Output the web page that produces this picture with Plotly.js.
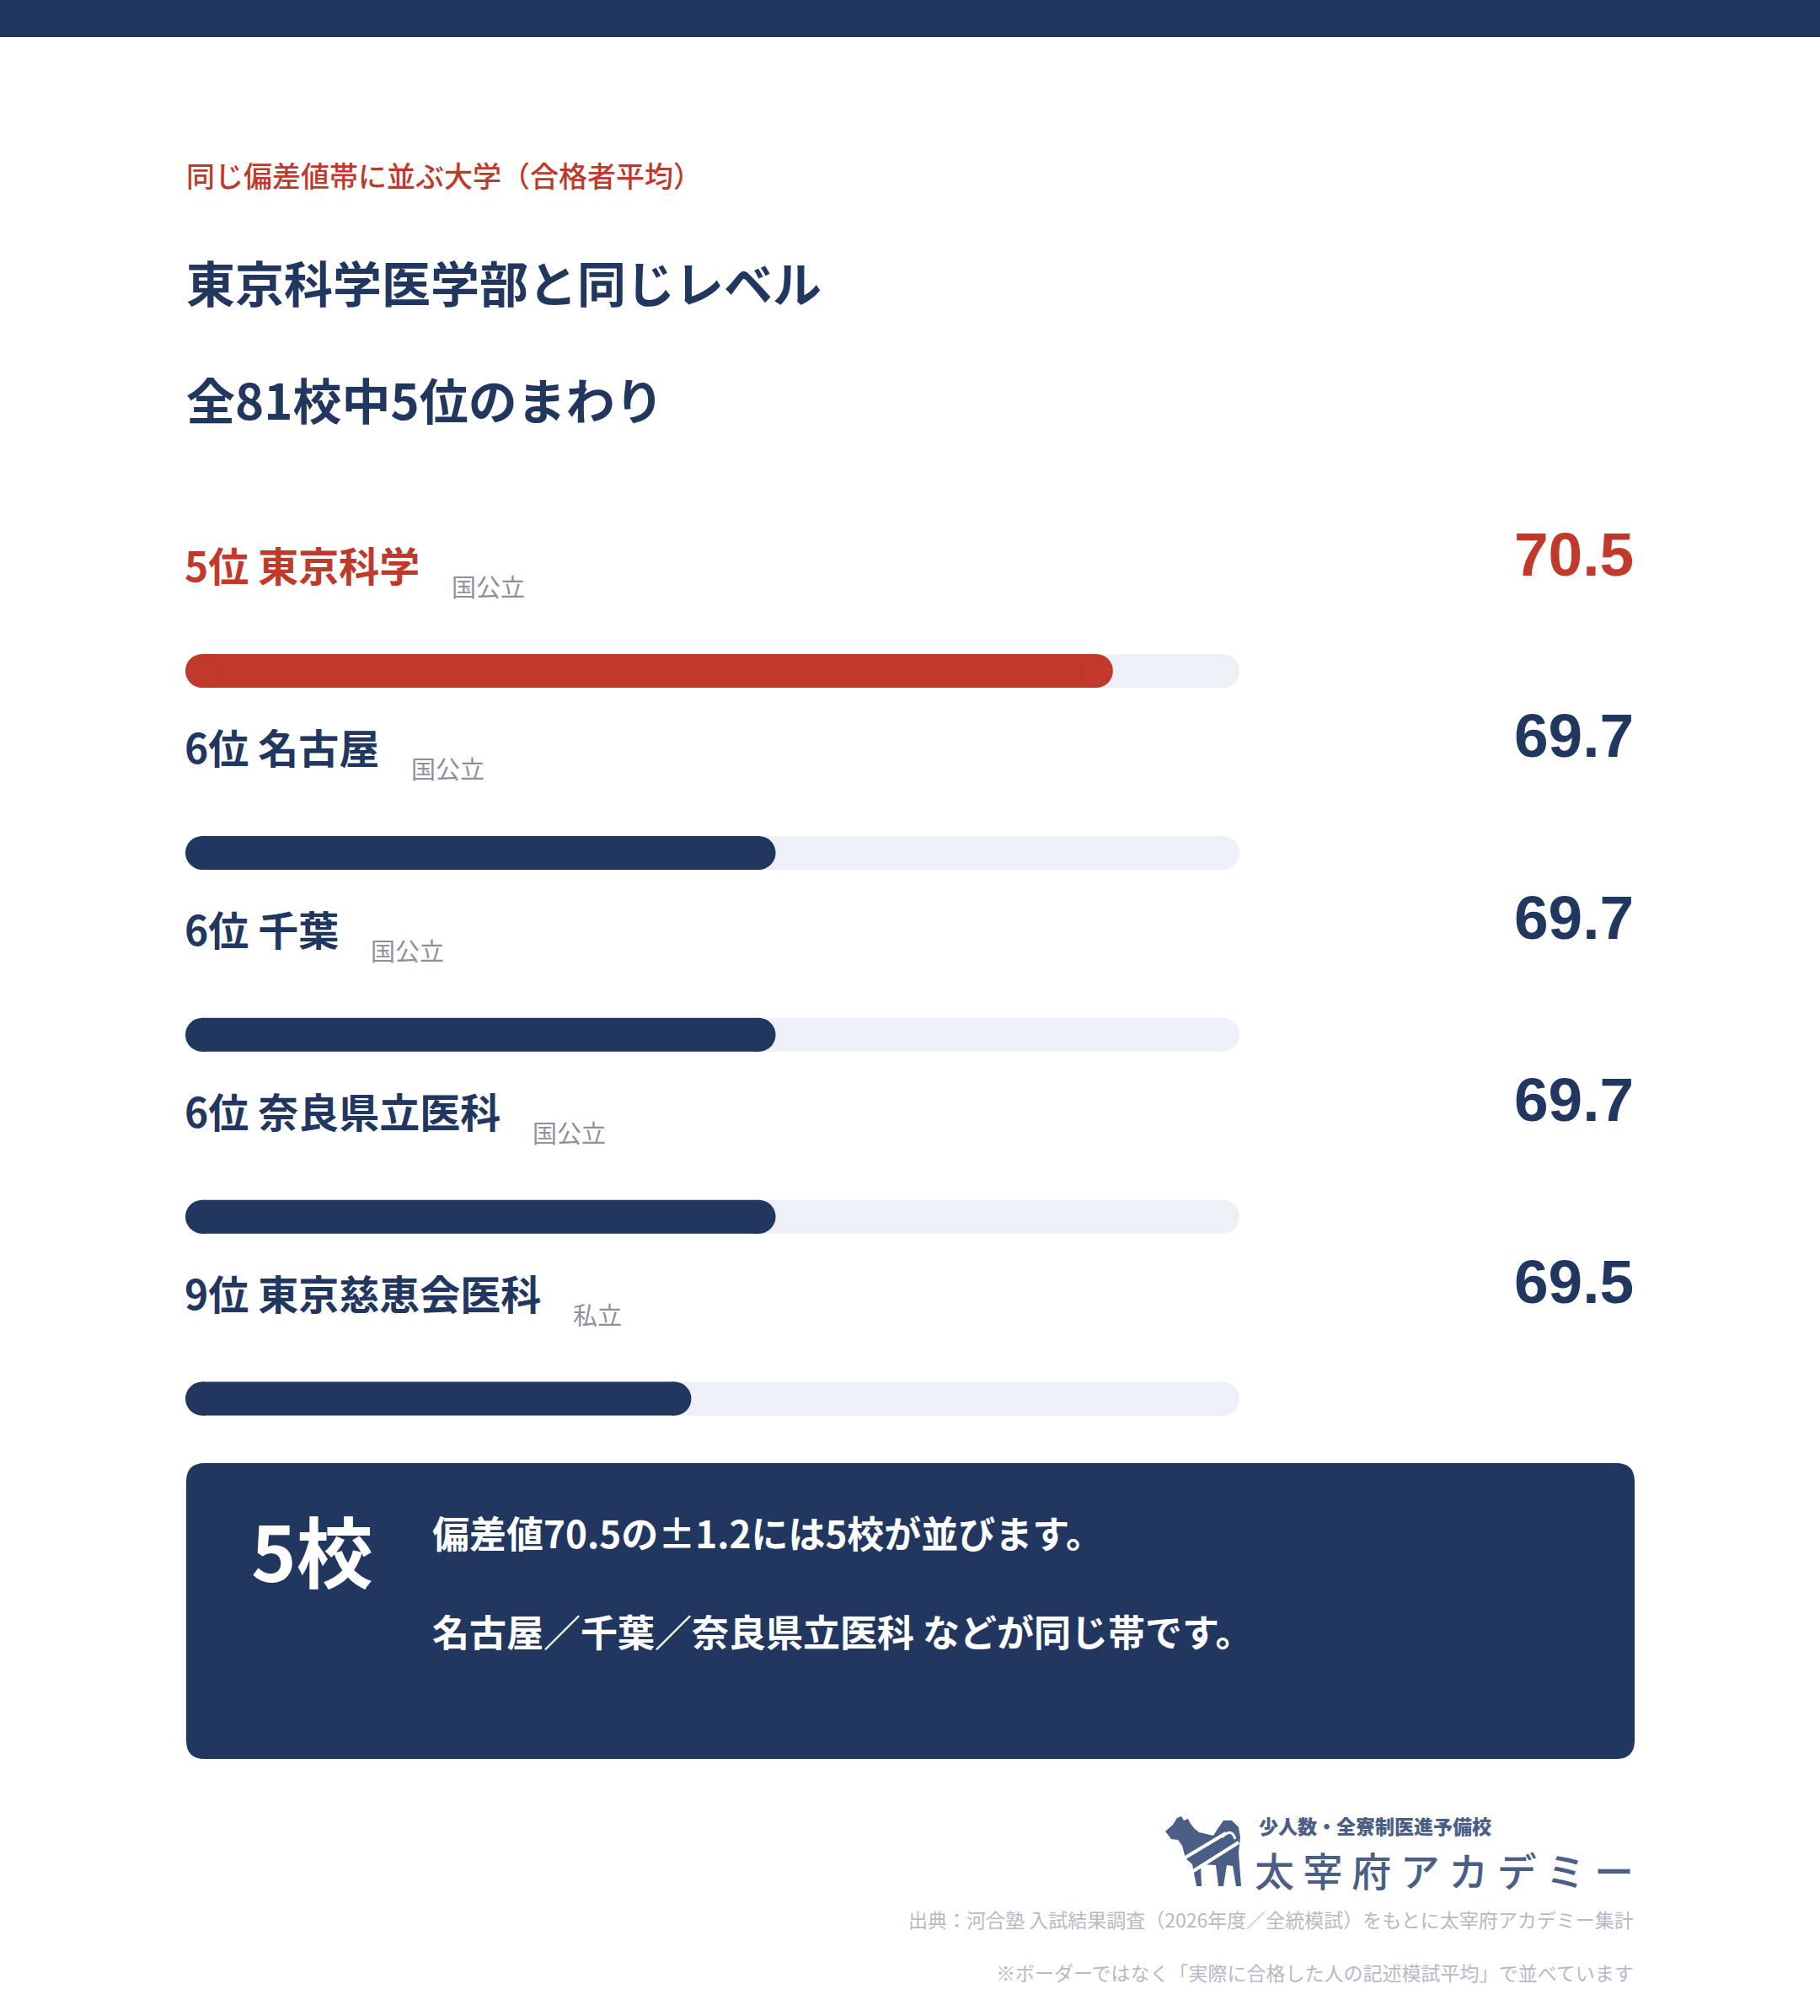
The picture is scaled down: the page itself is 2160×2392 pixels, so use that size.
<!DOCTYPE html>
<html><head><meta charset="utf-8">
<script src="https://cdn.plot.ly/plotly-3.0.1.min.js"></script>
<style>html,body{margin:0;padding:0;background:#fff}</style>
</head><body><div id="chart" style="width:2160px;height:2392px"></div>
<script>
// ---------- data ----------
const ranks = ['5位', '6位', '6位', '6位', '9位'];
const schools = ['東京科学', '名古屋', '千葉', '奈良県立医科', '東京慈恵会医科'];
const types = ['国公立', '国公立', '国公立', '国公立', '私立'];
const scores = [70.5, 69.7, 69.7, 69.7, 69.5];
const highlight = [true, false, false, false, false];
const scaleMin = 68.3;
const scaleMax = 70.8;
const subtitle = '同じ偏差値帯に並ぶ大学（合格者平均）';
const titleLines = ['東京科学医学部と同じレベル', '全81校中5位のまわり'];
const summaryCount = '5校';
const summaryLines = ['偏差値70.5の±1.2には5校が並びます。', '名古屋／千葉／奈良県立医科 などが同じ帯です。'];
const sourceNote = '出典：河合塾 入試結果調査（2026年度／全統模試）をもとに太宰府アカデミー集計';
const footNote = '※ボーダーではなく「実際に合格した人の記述模試平均」で並べています';
const logoSub = '少人数・全寮制医進予備校';
const logoMain = '太宰府アカデミー';

// ---------- style / layout constants ----------
const W = 2160, H = 2392;
const NAVY = '#213760', RED = '#c0392b', TRACK = '#edf0f7', SUBGRAY = '#8c919d', FOOTGRAY = '#b5bac5', LOGO = '#4b5f86';
const FONT = '"Noto Sans CJK JP", "Noto Sans", sans-serif';
const NUMFONT = '"Liberation Sans", Arial, sans-serif';
const trackL = 220, trackR = 1471, barH = 40;
const row0 = 796, rowStep = 215.9;
const px = v => v / W;
const py = v => 1 - v / H;

const rd = (barH / 2) * (scaleMax - scaleMin) / (trackR - trackL);

const traces = [];
schools.forEach((s, i) => {
  traces.push({
    type: 'scatter', mode: 'lines+markers', x: [scaleMin + rd, scaleMax - rd], y: [s, s],
    line: {color: TRACK, width: barH}, marker: {color: TRACK, size: barH},
    hoverinfo: 'skip', showlegend: false, cliponaxis: false
  });
  const c = highlight[i] ? RED : NAVY;
  traces.push({
    type: 'scatter', mode: 'lines+markers', x: [scaleMin + rd, scores[i] - rd], y: [s, s],
    line: {color: c, width: barH}, marker: {color: c, size: barH},
    hoverinfo: 'skip', showlegend: false, cliponaxis: false
  });
});

const ann = [];
function A(o) { ann.push(Object.assign({showarrow: false, xref: 'paper', yref: 'paper', xanchor: 'left', yanchor: 'middle', borderpad: 0}, o)); return ann.length - 1; }

A({x: px(220), y: py(207), text: subtitle, font: {family: FONT, size: 34, color: RED, weight: 500}});
A({x: px(220), y: py(334), text: titleLines[0], font: {family: FONT, size: 58, color: NAVY, weight: 700}});
A({x: px(220), y: py(473), text: titleLines[1], font: {family: FONT, size: 58, color: NAVY, weight: 700}});

const nameIdx = [], subIdx = [];
schools.forEach((s, i) => {
  const c = highlight[i] ? RED : NAVY;
  nameIdx.push(A({xref: 'x', yref: 'y', x: scaleMin, y: s, yshift: 127, xshift: -2, text: ranks[i] + ' ' + s,
    font: {family: FONT, size: 48, color: c, weight: 700}}));
  subIdx.push(A({xref: 'x', yref: 'y', x: scaleMin, y: s, yshift: 101, xshift: 300, text: types[i],
    font: {family: FONT, size: 29, color: SUBGRAY, weight: 400}}));
  A({xref: 'paper', yref: 'y', x: px(1940), y: s, yshift: 139, xanchor: 'right', text: scores[i].toFixed(1),
    font: {family: NUMFONT, size: 73, color: c, weight: 700}});
});

A({x: px(297), y: py(1837), text: summaryCount, font: {family: FONT, size: 91, color: '#ffffff', weight: 700}});
A({x: px(512), y: py(1818), text: summaryLines[0], font: {family: FONT, size: 44, color: '#ffffff', weight: 700}});
A({x: px(512), y: py(1935), text: summaryLines[1], font: {family: FONT, size: 44, color: '#ffffff', weight: 700}});

A({x: px(1493), y: py(2166), text: logoSub, font: {family: FONT, size: 23, color: LOGO, weight: 900}});
A({x: px(1940), y: py(2217), xanchor: 'right', text: logoMain.split('').join(' '), font: {family: FONT, size: 47, color: LOGO, weight: 500}});
A({x: px(1940), y: py(2277), xanchor: 'right', text: sourceNote, font: {family: FONT, size: 23, color: FOOTGRAY, weight: 400}});
A({x: px(1940), y: py(2340), xanchor: 'right', text: footNote, font: {family: FONT, size: 23, color: FOOTGRAY, weight: 400}});

// rounded summary box
function roundRect(x0, y0, x1, y1, r) {
  const P = (x, y) => px(x) + ',' + py(y);
  return 'M' + P(x0 + r, y0) + ' L' + P(x1 - r, y0) + ' Q' + P(x1, y0) + ' ' + P(x1, y0 + r) +
    ' L' + P(x1, y1 - r) + ' Q' + P(x1, y1) + ' ' + P(x1 - r, y1) +
    ' L' + P(x0 + r, y1) + ' Q' + P(x0, y1) + ' ' + P(x0, y1 - r) +
    ' L' + P(x0, y0 + r) + ' Q' + P(x0, y0) + ' ' + P(x0 + r, y0) + ' Z';
}
// dog logo outline (pixel points)
const dogPts = [[1383,2173],[1392,2165],[1397,2157],[1402,2155],[1405,2160],[1410,2158],[1413,2164],[1418,2170],
  [1423,2174],[1440,2178],[1445,2170],[1452,2160],[1462,2160],[1470,2168],[1472,2180],[1470,2198],[1473,2238],
  [1467,2238],[1463,2214],[1456,2213],[1452,2238],[1446,2238],[1443,2213],[1425,2212],[1426,2238],[1420,2238],
  [1415,2212],[1407,2205],[1403,2190],[1398,2183],[1390,2182]];
function poly(pts) { return 'M' + pts.map(p => px(p[0]) + ',' + py(p[1])).join(' L') + ' Z'; }
function seg(a, b) { return 'M' + px(a[0]) + ',' + py(a[1]) + ' L' + px(b[0]) + ',' + py(b[1]); }

const shapes = [
  {type: 'rect', xref: 'paper', yref: 'paper', x0: 0, x1: 1, y0: py(44), y1: 1, fillcolor: NAVY, line: {width: 0}, layer: 'below'},
  {type: 'path', xref: 'paper', yref: 'paper', path: roundRect(221, 1736, 1940, 2087, 22), fillcolor: NAVY, line: {width: 0}, layer: 'below'},
  {type: 'path', xref: 'paper', yref: 'paper', path: poly(dogPts), fillcolor: LOGO, line: {width: 0}},
  {type: 'path', xref: 'paper', yref: 'paper', path: seg([1405, 2205], [1455, 2175]), line: {color: '#ffffff', width: 4}},
  {type: 'path', xref: 'paper', yref: 'paper', path: seg([1413, 2222], [1470, 2186]), line: {color: '#ffffff', width: 4}},
  {type: 'path', xref: 'paper', yref: 'paper', path: 'M' + px(1450) + ',' + py(2180) + ' Q' + px(1462) + ',' + py(2168) + ' ' + px(1466) + ',' + py(2182), line: {color: '#ffffff', width: 3}}
];

const iTop = -row0 / rowStep, iBot = (H - row0) / rowStep;
const layout = {
  width: W, height: H, margin: {l: 0, r: 0, t: 0, b: 0},
  paper_bgcolor: '#ffffff', plot_bgcolor: 'rgba(0,0,0,0)', showlegend: false,
  font: {family: FONT},
  xaxis: {domain: [px(trackL), px(trackR)], range: [scaleMin, scaleMax], visible: false, fixedrange: true},
  yaxis: {domain: [0, 1], type: 'category', categoryarray: schools, categoryorder: 'array', range: [iBot, iTop], visible: false, fixedrange: true},
  annotations: ann, shapes: shapes
};

Plotly.newPlot('chart', traces, layout, {displayModeBar: false, staticPlot: true}).then(gd => {
  const upd = {};
  nameIdx.forEach((ni, k) => {
    const el = gd.querySelector('.annotation[data-index="' + ni + '"] .annotation-text');
    if (el) {
      const w = el.getBBox().width;
      upd['annotations[' + subIdx[k] + '].xshift'] = w + 36;
    }
  });
  return Plotly.relayout(gd, upd);
});
</script>
</body></html>
